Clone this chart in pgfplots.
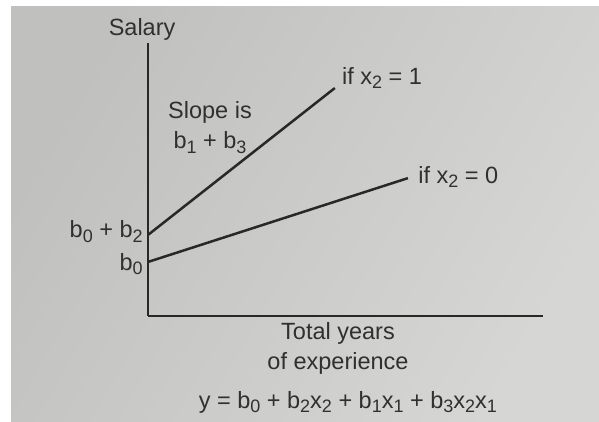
\documentclass[border=0pt]{standalone}
\usepackage{pgfplots}
\pgfplotsset{compat=1.18}
\usepackage{fontspec}
\setmainfont{Liberation Sans}

\definecolor{ink}{RGB}{40,40,40}
\definecolor{txt}{RGB}{48,48,48}
\definecolor{paperdark}{RGB}{192,192,190}
\definecolor{paperlight}{RGB}{214,214,212}

% lowered, smaller digit for subscripts in the labels
\newcommand\sub[1]{\raisebox{-0.38ex}{\fontsize{18}{18}\selectfont #1}}

\tikzset{lbl/.style={font=\fontsize{23.5}{30}\selectfont, text=txt}}

\begin{document}
\begin{tikzpicture}
\useasboundingbox (0,0) rectangle (599pt,421pt);
\fill[white] (0,0) rectangle (599pt,421pt);
\shade[left color=paperdark, right color=paperlight, shading angle=60]
  (11pt,0) rectangle (599pt,414pt);
\begin{axis}[
  at={(148pt,105pt)}, anchor=south west,
  scale only axis, width=395pt, height=273pt,
  xmin=0, xmax=10, ymin=0, ymax=10,
  axis lines=left,
  axis line style={-, line width=2.6pt, color=ink},
  xtick=\empty, ytick=\empty,
  clip=false,
]
% salary line for x2 = 1
\addplot[ink, line width=2.5pt] coordinates {(0,2.97) (4.73,8.35)};
% salary line for x2 = 0
\addplot[ink, line width=2.5pt] coordinates {(0,1.98) (6.58,5.05)};

\node[lbl] at (axis cs:-0.15,10.48) {Salary};
\node[lbl, align=center] at (axis cs:1.57,6.89) {Slope is\\b\sub{1} + b\sub{3}};
\node[lbl, anchor=west, inner sep=0pt] at (axis cs:4.91,8.72) {if x\sub{2} = 1};
\node[lbl, anchor=west, inner sep=0pt] at (axis cs:6.84,5.09) {if x\sub{2} = 0};
\node[lbl, anchor=east, inner sep=0pt] at (axis cs:-0.13,3.08) {b\sub{0} + b\sub{2}};
\node[lbl, anchor=east, inner sep=0pt] at (axis cs:-0.13,1.90) {b\sub{0}};
\node[lbl, align=center] at (axis cs:4.81,-1.17) {Total years\\of experience};
\node[lbl] at (axis cs:5.06,-3.15) {y = b\sub{0} + b\sub{2}x\sub{2} + b\sub{1}x\sub{1} + b\sub{3}x\sub{2}x\sub{1}};
\end{axis}
\end{tikzpicture}
\end{document}
